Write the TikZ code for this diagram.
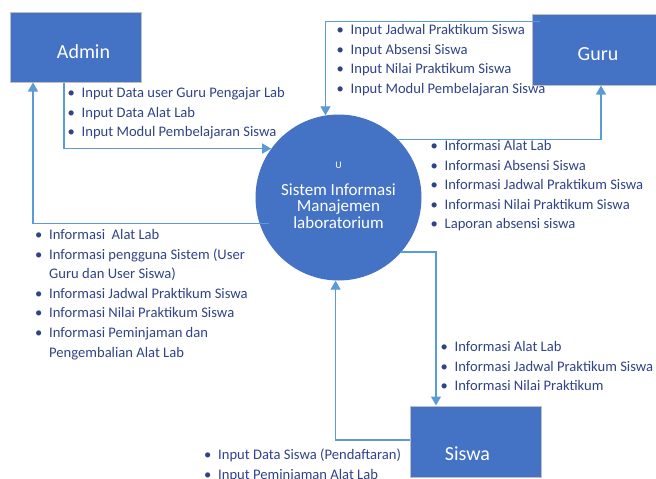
\documentclass[tikz,border=0pt]{standalone}
\usepackage{fontspec}
\setmainfont{Carlito}
\usepackage{xcolor}
\usepackage{tikz}
\usetikzlibrary{arrows.meta}
\definecolor{boxblue}{HTML}{4472C4}
\definecolor{flowblue}{HTML}{5B9BD5}
\definecolor{txtblue}{HTML}{2F4386}
\newcommand{\bul}{\makebox[14pt][l]{\textbullet}}
% lower a label inside its box without moving the box
\newcommand{\dropto}[2]{\raisebox{-#1}[\height][\depth]{#2}}

\begin{document}
\begin{tikzpicture}[
  x=1pt, y=-1pt,
  ent/.style={draw=black!25, line width=1pt, fill=boxblue, text=white,
              font=\fontsize{20}{22}\selectfont, inner sep=0pt},
  proc/.style={circle, fill=boxblue, text=white, inner sep=0pt,
               minimum size=166pt, font=\fontsize{17}{16}\selectfont},
  flow/.style={-{Triangle[length=9pt,width=10pt]}, flowblue, line width=1.3pt},
  lst/.style={anchor=base west, inner sep=0pt, text=txtblue,
              font=\fontsize{14.6}{19.6}\selectfont},
]
\useasboundingbox (0,0) rectangle (656,479);

% external entities and the process
\node[ent, minimum width=131pt, minimum height=70pt] (admin) at (75.5,47)
  {\hspace*{16pt}\dropto{5pt}{Admin}};
\node[ent, minimum width=126pt, minimum height=71pt] (guru) at (595,49.5)
  {\hspace*{6pt}\dropto{5pt}{Guru}};
\node[ent, minimum width=131pt, minimum height=71pt] (siswa) at (475.5,441.5)
  {\dropto{12pt}{Siswa}\hspace*{16pt}};
\node[proc] (sim) at (338.5,197.5)
  {\dropto{-2pt}{\begin{tabular}{@{}c@{}}
     {\fontsize{10}{10}\selectfont U}\\[10pt]
     Sistem Informasi\\Manajemen\\laboratorium
   \end{tabular}}};

% data flows
\draw[flow] ([xshift=-11.5pt]admin.south) |- (sim.144);
\draw[flow] ([xshift=10pt]sim.198) -| ([xshift=-42.5pt]admin.south);
\draw[flow] ([shift={(8pt,-8pt)}]guru.north west) -| (sim.99);
\draw[flow] (sim.44) -| ([xshift=6pt]guru.south);
\draw[flow] (sim.-41) -| ([xshift=-39.5pt]siswa.north);
\draw[flow] ([yshift=1.5pt]siswa.west) -| (sim.268);

% flow labels
\node[lst] (inadmin) at (67.5,97.5) {\begin{tabular}[t]{@{}l@{}l@{}}
  \bul & Input Data user Guru Pengajar Lab\\
  \bul & Input Data Alat Lab\\
  \bul & Input Modul Pembelajaran Siswa
\end{tabular}};
\node[lst] (inguru) at (336.5,34.5) {\begin{tabular}[t]{@{}l@{}l@{}}
  \bul & Input Jadwal Praktikum Siswa\\
  \bul & Input Absensi Siswa\\
  \bul & Input Nilai Praktikum Siswa\\
  \bul & Input Modul Pembelajaran Siswa
\end{tabular}};
\node[lst] (outguru) at (430.5,150.5) {\begin{tabular}[t]{@{}l@{}l@{}}
  \bul & Informasi Alat Lab\\
  \bul & Informasi Absensi Siswa\\
  \bul & Informasi Jadwal Praktikum Siswa\\
  \bul & Informasi Nilai Praktikum Siswa\\
  \bul & Laporan absensi siswa
\end{tabular}};
\node[lst] (outadmin) at (35,239.5) {\begin{tabular}[t]{@{}l@{}l@{}}
  \bul & Informasi~ Alat Lab\\
  \bul & Informasi pengguna Sistem (User\\
       & Guru dan User Siswa)\\
  \bul & Informasi Jadwal Praktikum Siswa\\
  \bul & Informasi Nilai Praktikum Siswa\\
  \bul & Informasi Peminjaman dan\\
       & Pengembalian Alat Lab
\end{tabular}};
\node[lst] (outsiswa) at (440.5,351.5) {\begin{tabular}[t]{@{}l@{}l@{}}
  \bul & Informasi Alat Lab\\
  \bul & Informasi Jadwal Praktikum Siswa\\
  \bul & Informasi Nilai Praktikum
\end{tabular}};
\node[lst] (insiswa) at (204,459.5) {\begin{tabular}[t]{@{}l@{}l@{}}
  \bul & Input Data Siswa (Pendaftaran)\\
  \bul & Input Peminjaman Alat Lab
\end{tabular}};
\end{tikzpicture}
\end{document}
